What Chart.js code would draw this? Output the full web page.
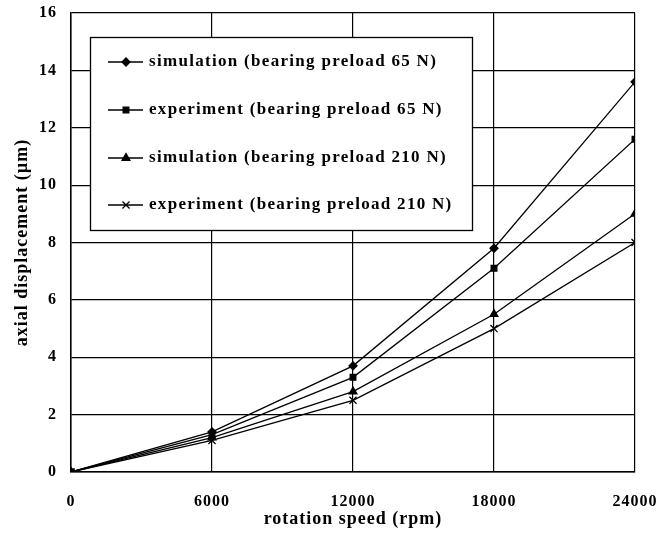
<!DOCTYPE html>
<html>
<head>
<meta charset="utf-8">
<script src="https://cdn.jsdelivr.net/npm/chart.js@4"></script>
<style>
  body { margin: 0; background: #fff; }
  #wrap { width: 659px; height: 544px; }
</style>
</head>
<body>
<div id="wrap"><canvas id="chartId" width="659" height="544"></canvas></div>
<script>
// rotation speed (rpm)
const speeds = [0, 6000, 12000, 18000, 24000];
// axial displacement (um)
const simulation65 = [0, 1.4, 3.7, 7.8, 13.6];
const experiment65 = [0, 1.3, 3.3, 7.1, 11.6];
const simulation210 = [0, 1.2, 2.8, 5.5, 9.0];
const experiment210 = [0, 1.1, 2.5, 5.0, 8.0];

const seriesLabels = [
  "simulation (bearing preload 65 N)",
  "experiment (bearing preload 65 N)",
  "simulation (bearing preload 210 N)",
  "experiment (bearing preload 210 N)",
];
const markers = ["rectRot", "rect", "triangle", "crossRot"];
const markerSizes = [4, 4, 4.5, 5];

const serif = "'Liberation Serif', 'Times New Roman', serif";

const toPoints = (vals) => vals.map((v, i) => ({ x: speeds[i], y: v }));

const datasets = [simulation65, experiment65, simulation210, experiment210].map((vals, i) => ({
  label: seriesLabels[i],
  data: toPoints(vals),
  borderColor: "#000",
  backgroundColor: "#000",
  borderWidth: 1.3,
  pointStyle: markers[i],
  pointRadius: markerSizes[i],
  pointBorderWidth: 1.3,
  tension: 0,
}));

// the scanned figure has loosely spaced lettering
const spacing = {
  id: "spacing",
  beforeDraw(chart) {
    chart.ctx.letterSpacing = "1px";
  },
};

// legend box drawn inside the plot, like the original figure
const boxLegend = {
  id: "boxLegend",
  afterDraw(chart) {
    const ctx = chart.ctx;
    const left = 90, top = 37, right = 472, bottom = 230;
    ctx.save();
    ctx.fillStyle = "#fff";
    ctx.fillRect(left, top, right - left, bottom - top);
    ctx.strokeStyle = "#000";
    ctx.lineWidth = 1.3;
    ctx.strokeRect(left + 0.5, top + 0.5, right - left, bottom - top);
    const rows = [62, 110, 158, 205];
    chart.data.datasets.forEach((ds, i) => {
      const y = rows[i];
      ctx.beginPath();
      ctx.moveTo(108, y);
      ctx.lineTo(143, y);
      ctx.lineWidth = 1.3;
      ctx.strokeStyle = "#000";
      ctx.stroke();
      ctx.fillStyle = "#000";
      Chart.helpers.drawPoint(ctx, {
        pointStyle: ds.pointStyle,
        radius: ds.pointRadius,
        borderWidth: 1.3,
      }, 126, y);
      ctx.font = "bold 17px " + serif;
      ctx.letterSpacing = "1.3px";
      ctx.textBaseline = "middle";
      ctx.fillText(ds.label, 149, y);
    });
    ctx.restore();
  },
};

new Chart(document.getElementById("chartId"), {
  type: "line",
  data: { datasets: datasets },
  plugins: [spacing, boxLegend],
  options: {
    responsive: false,
    animation: false,
    layout: { padding: { left: 0, right: 24, top: 13, bottom: 0 } },
    plugins: {
      legend: { display: false },
      tooltip: { enabled: false },
    },
    scales: {
      x: {
        type: "linear",
        min: 0,
        max: 24000,
        afterFit: (scale) => {
          scale.height = 72;
          scale.paddingLeft = 0;
          scale.paddingRight = 0;
        },
        ticks: {
          stepSize: 6000,
          padding: 20,
          color: "#000",
          font: { family: serif, size: 16, weight: "bold" },
          maxRotation: 0,
          callback: (v) => String(v),
        },
        grid: { color: "#000", lineWidth: 1.2, drawTicks: false },
        border: { color: "#000", width: 1.5 },
        title: {
          display: true,
          text: "rotation speed (rpm)",
          color: "#000",
          font: { family: serif, size: 18, weight: "bold" },
          padding: { top: 0, bottom: 14 },
        },
      },
      y: {
        min: 0,
        max: 16,
        afterFit: (scale) => {
          scale.width = 71;
          scale.paddingTop = 0;
          scale.paddingBottom = 0;
        },
        ticks: {
          stepSize: 2,
          padding: 14,
          color: "#000",
          font: { family: serif, size: 16, weight: "bold" },
        },
        grid: { color: "#000", lineWidth: 1.2, drawTicks: false },
        border: { color: "#000", width: 1.5 },
        title: {
          display: true,
          text: "axial displacement (\u00b5m)",
          color: "#000",
          font: { family: serif, size: 18, weight: "bold" },
          padding: { top: 12, bottom: 0 },
        },
      },
    },
  },
});
</script>
</body>
</html>
